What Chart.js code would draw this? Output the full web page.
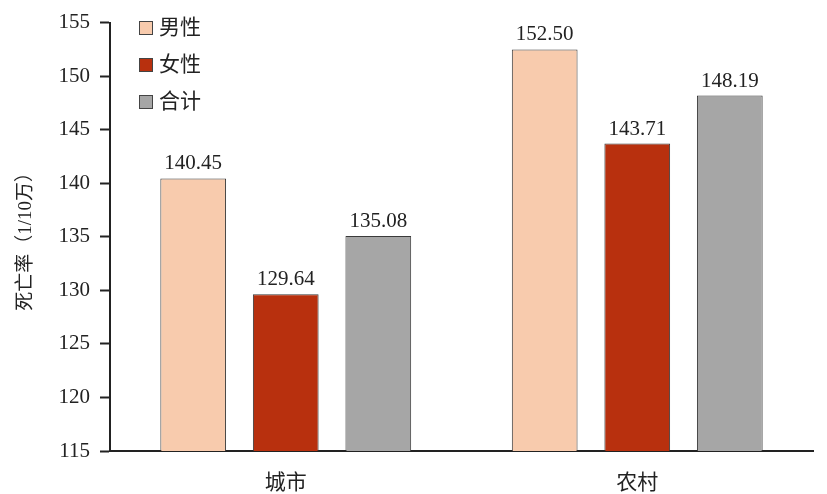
<!DOCTYPE html>
<html>
<head>
<meta charset="utf-8">
<script src="https://cdn.jsdelivr.net/npm/chart.js@4.4.1/dist/chart.umd.min.js"></script>
<style>
  html, body { margin: 0; padding: 0; background: #fff; }
  #wrap { width: 827px; height: 494px; }
</style>
</head>
<body>
<div id="wrap"><canvas id="c" width="827" height="494"></canvas></div>
<script>
// data
const categories = ['城市', '农村'];
const seriesNames = ['男性', '女性', '合计'];
const male   = [140.45, 152.50];
const female = [129.64, 143.71];
const total  = [135.08, 148.19];
const yTicks = [115, 120, 125, 130, 135, 140, 145, 150, 155];

const colors = ['#F8CBAD', '#B8300E', '#A6A6A6'];
const FONT = '"Liberation Serif", "Times New Roman", "Noto Sans CJK SC", serif';
const INK = '#222';

// value labels above each bar
const valueLabels = {
  id: 'valueLabels',
  afterDatasetsDraw(chart) {
    const ctx = chart.ctx;
    ctx.save();
    ctx.font = '21px ' + FONT;
    ctx.fillStyle = INK;
    ctx.textAlign = 'center';
    ctx.textBaseline = 'alphabetic';
    chart.data.datasets.forEach((ds, i) => {
      chart.getDatasetMeta(i).data.forEach((bar, j) => {
        ctx.fillText(ds.data[j].toFixed(2), bar.x, bar.y - 9);
      });
    });
    ctx.restore();
  }
};

// vertical legend inside the plot, top-left
const insideLegend = {
  id: 'insideLegend',
  afterDraw(chart) {
    const ctx = chart.ctx;
    ctx.save();
    ctx.font = '21px ' + FONT;
    ctx.textBaseline = 'middle';
    chart.data.datasets.forEach((ds, i) => {
      const x = 139, y = 21 + i * 37;
      ctx.fillStyle = ds.backgroundColor;
      ctx.fillRect(x, y, 14, 14);
      ctx.strokeStyle = '#444';
      ctx.lineWidth = 1;
      ctx.strokeRect(x + 0.5, y + 0.5, 13, 13);
      ctx.fillStyle = INK;
      ctx.fillText(ds.label, 159, y + 7);
    });
    ctx.restore();
  }
};

new Chart(document.getElementById('c'), {
  type: 'bar',
  data: {
    labels: categories,
    datasets: [
      { label: seriesNames[0], data: male,   backgroundColor: colors[0] },
      { label: seriesNames[1], data: female, backgroundColor: colors[1] },
      { label: seriesNames[2], data: total,  backgroundColor: colors[2] },
    ].map(d => Object.assign(d, {
      borderColor: '#3a3a3a', borderWidth: 1,
      categoryPercentage: 0.79, barPercentage: 0.71
    }))
  },
  options: {
    responsive: false,
    animation: false,
    layout: { padding: { top: 22, right: 14, left: 0, bottom: 0 } },
    plugins: { legend: { display: false }, tooltip: { enabled: false } },
    scales: {
      x: {
        grid: { display: false },
        border: { display: true, color: '#222', width: 2 },
        ticks: { color: INK, font: { family: FONT, size: 21 }, padding: 12 },
        afterFit(s) { s.height = 43; }
      },
      y: {
        min: 115, max: 155,
        afterBuildTicks(s) { s.ticks = yTicks.map(v => ({ value: v })); },
        grid: { drawOnChartArea: false, drawTicks: true, tickLength: 10, tickColor: '#222', tickWidth: 2 },
        border: { display: true, color: '#222', width: 2 },
        ticks: { color: INK, font: { family: FONT, size: 21 }, padding: 10 },
        title: {
          display: true, text: '死亡率（1/10万）', color: INK,
          font: { family: FONT, size: 19 }, padding: { top: 15, bottom: 0 }
        },
        afterFit(s) { s.width = 110; }
      }
    }
  },
  plugins: [valueLabels, insideLegend]
});
</script>
</body>
</html>
